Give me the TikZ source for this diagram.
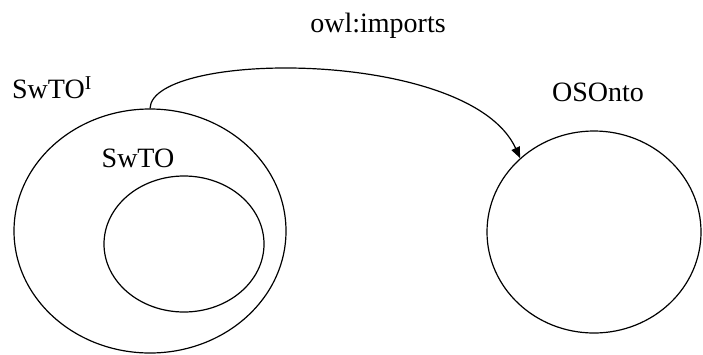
\documentclass[tikz,border=0pt]{standalone}
\usepackage{fontspec}
\setmainfont{Liberation Serif}
\usetikzlibrary{shapes.geometric, arrows.meta}

\begin{document}
\begin{tikzpicture}[x=1pt, y=-1pt,
	onto/.style={ellipse, draw=black, line width=1.2pt, inner sep=0pt},
	lbl/.style={font=\fontsize{28}{32}\selectfont, inner sep=0pt}]
	\useasboundingbox (0, 0) rectangle (703, 354);

	\node[onto, minimum width=272pt, minimum height=244pt] (swto-i) at (150, 231) {};
	\node[onto, minimum width=160pt, minimum height=136pt] (swto) at (184, 244) {};
	\node[onto, minimum width=214pt, minimum height=202pt] (osonto) at (594, 232) {};

	\node[lbl] (swto-i-label) at (52, 88) {SwTO\textsuperscript{I}};
	\node[lbl] (swto-label) at (138, 158) {SwTO};
	\node[lbl] (osonto-label) at (598, 92) {OSOnto};
	\node[lbl] (imports-label) at (378, 26) {owl:imports};

	\draw[-{Triangle[length=11pt, width=9pt]}, line width=1.2pt] (swto-i.north) .. controls (152, 50) and (470, 48) .. (osonto.135);
\end{tikzpicture}
\end{document}
